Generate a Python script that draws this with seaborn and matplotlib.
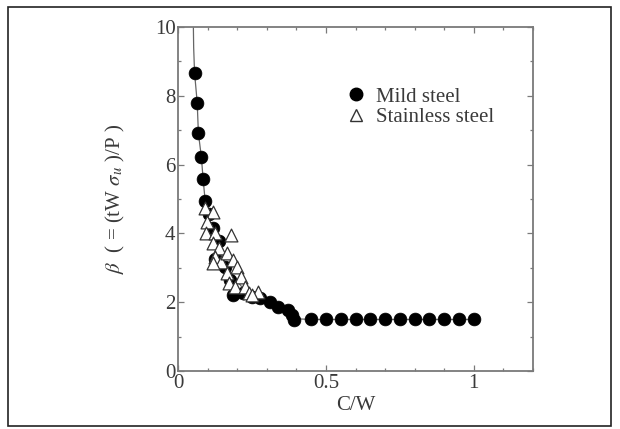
import matplotlib

matplotlib.use("Agg")

import matplotlib.pyplot as plt
import pandas as pd
import seaborn as sns
from matplotlib.lines import Line2D
from matplotlib.patches import Rectangle
from matplotlib.ticker import MultipleLocator

# values
mild_x = [0.055, 0.064, 0.068, 0.078, 0.084, 0.091, 0.104, 0.118, 0.125, 0.138, 0.158,
          0.176, 0.184, 0.220, 0.250, 0.278, 0.312, 0.338, 0.372, 0.385, 0.392,
          0.45, 0.50, 0.55, 0.60, 0.65, 0.70, 0.75, 0.80, 0.85, 0.90, 0.95, 1.00]
mild_y = [8.67, 7.80, 6.91, 6.23, 5.58, 4.94, 4.58, 4.17, 3.27, 3.78, 3.03,
          2.65, 2.21, 2.27, 2.15, 2.11, 2.02, 1.87, 1.77, 1.63, 1.48,
          1.5, 1.5, 1.5, 1.5, 1.5, 1.5, 1.5, 1.5, 1.5, 1.5, 1.5, 1.5]

stain_x = [0.091, 0.118, 0.098, 0.094, 0.124, 0.178, 0.118, 0.138, 0.124, 0.144, 0.164,
           0.184, 0.198, 0.211, 0.164, 0.171, 0.191, 0.225, 0.238, 0.271, 0.251, 0.118]
stain_y = [4.73, 4.63, 4.34, 4.00, 4.00, 3.95, 3.71, 3.57, 3.32, 3.18, 3.42,
           3.23, 3.03, 2.74, 2.84, 2.55, 2.45, 2.45, 2.26, 2.31, 2.21, 3.13]

curve_x = [0.051, 0.052, 0.055, 0.064, 0.068, 0.078, 0.084, 0.091, 0.11, 0.13, 0.16,
           0.19, 0.22, 0.26, 0.30, 0.34, 0.38, 0.40, 0.45, 1.00]
curve_y = [10.0, 9.4, 8.67, 7.80, 6.91, 6.23, 5.58, 4.94, 4.30, 3.75, 3.10,
           2.70, 2.40, 2.15, 1.98, 1.85, 1.68, 1.52, 1.5, 1.5]

x_ticks = [0, 0.5, 1]
x_labels = ["0", "0.5", "1"]
y_ticks = [0, 2, 4, 6, 8, 10]

series = ["Mild steel", "Stainless steel"]

sns.set_theme(style="ticks")
plt.rcParams["font.family"] = ["Liberation Serif", "DejaVu Serif"]
plt.rcParams["mathtext.fontset"] = "stix"

text_col = "#3a3a3a"
spine_col = "#7a7a7a"

fig = plt.figure(figsize=(6.2, 4.29), dpi=100)
ax = fig.add_axes([0.2876, 0.135, 0.5716, 0.802])

# outer frame around the whole picture
fig.patches.append(Rectangle((0.013, 0.007), 0.972, 0.977, transform=fig.transFigure,
                             fill=False, edgecolor="#222222", linewidth=1.2))

curve = pd.DataFrame({"x": curve_x, "y": curve_y})
sns.lineplot(data=curve, x="x", y="y", sort=False, estimator=None, color="#666666",
             lw=0.9, ax=ax, legend=False)

mild = pd.DataFrame({"x": mild_x, "y": mild_y})
stain = pd.DataFrame({"x": stain_x, "y": stain_y})
sns.scatterplot(data=mild, x="x", y="y", marker="o", s=85, color="black",
                edgecolor="black", linewidth=0.5, ax=ax, zorder=3)
sns.scatterplot(data=stain, x="x", y="y", marker="^", s=85, facecolor="white",
                edgecolor="#333333", linewidth=0.9, ax=ax, zorder=4)

ax.set_xlim(0, 1.2)
ax.set_ylim(0, 10)
ax.set_xticks(x_ticks)
ax.set_xticklabels(x_labels)
ax.set_yticks(y_ticks)
ax.xaxis.set_minor_locator(MultipleLocator(0.1))
ax.yaxis.set_minor_locator(MultipleLocator(1))
ax.tick_params(which="both", direction="in", top=True, right=True, color=spine_col,
               labelsize=15, labelcolor=text_col, pad=2)
ax.tick_params(which="major", length=4, width=0.9)
ax.tick_params(which="minor", length=2.5, width=0.9)
for sp in ax.spines.values():
    sp.set_color(spine_col)
    sp.set_linewidth(1.3)

ax.set_xlabel("C/W", fontsize=15, color=text_col, labelpad=2)
ax.set_ylabel(r"$\beta$  ( = (tW $\sigma_u$ )/P )", fontsize=15, color=text_col, labelpad=20)

handles = [
    Line2D([], [], marker="o", ls="", color="black", markersize=9),
    Line2D([], [], marker="^", ls="", markerfacecolor="white", markeredgecolor="#333333",
           markersize=8.5),
]
leg = ax.legend(handles, series, loc="upper left", bbox_to_anchor=(0.435, 0.85),
                frameon=False, fontsize=15, handletextpad=0.2, labelspacing=0.05,
                handlelength=1.5, borderaxespad=0)
for t in leg.get_texts():
    t.set_color(text_col)

fig.savefig("out.png", dpi=100)
